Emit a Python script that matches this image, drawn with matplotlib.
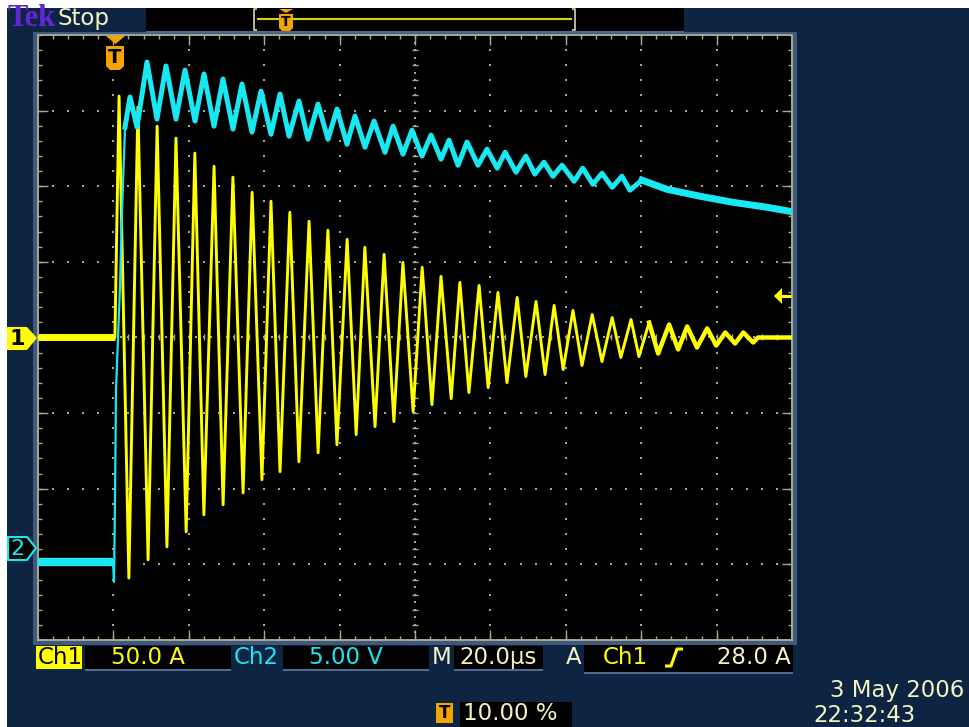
import numpy as np
import matplotlib.pyplot as plt
from matplotlib.patches import Rectangle, Polygon
from matplotlib.lines import Line2D
from matplotlib.transforms import Affine2D

# Ch1 讀值：波峰、波谷 (時間 us, 電流 A)
ch1_peak_t = [1.5, 6.5, 11.6, 16.6, 21.6, 26.7, 31.7, 36.8, 41.8, 46.8, 51.9, 56.9,
              62.0, 66.7, 71.8, 76.8, 81.9, 86.9, 91.9, 97.0, 102.0, 107.1, 112.1,
              116.9, 121.9, 127.0, 132.3, 137.3, 142.1, 147.4, 152.2, 157.5, 162.3, 167.1]
ch1_peak_a = [159.6, 152.3, 139.7, 131.8, 121.9, 113.2, 106.0, 96.0, 90.1, 82.8, 76.8,
              70.9, 64.9, 59.6, 55.0, 49.7, 46.4, 40.4, 36.4, 34.4, 29.8, 26.5, 23.8,
              21.2, 17.9, 15.2, 13.2, 11.9, 9.9, 8.6, 7.3, 6.0, 3.3, 3.3]
ch1_trough_t = [4.1, 9.2, 14.2, 19.3, 24.0, 29.1, 34.4, 39.4, 44.2, 49.2, 54.3, 59.3,
                64.4, 69.4, 74.4, 79.5, 84.5, 89.6, 94.3, 99.4, 104.4, 109.4, 114.5,
                119.3, 124.3, 129.6, 134.6, 139.4, 144.5, 149.8, 154.8, 159.9, 164.9, 169.7]
ch1_trough_a = [-159.0, -147.0, -138.4, -128.5, -117.2, -110.6, -102.7, -94.0, -88.7,
                -82.1, -76.2, -70.9, -64.2, -58.9, -55.6, -49.0, -44.4, -40.4, -36.4,
                -33.1, -29.8, -25.8, -24.5, -21.2, -18.5, -15.9, -13.2, -12.6, -10.6,
                -7.9, -6.6, -5.3, -4.0, -3.3]

# Ch2 讀值 (時間 us, 電壓 V)
ch2_t = [-20.0, -0.1, 0.16, 0.42, 0.69, 1.75, 2.28, 3.08, 4.40, 6.26,
         8.91, 11.56, 13.95, 16.6, 18.99, 21.64, 24.03, 26.68, 29.07, 31.72,
         34.11, 36.76, 39.15, 41.8, 44.19, 46.58, 49.23, 51.62, 54.27, 56.92,
         59.31, 61.96, 64.08, 66.74, 69.13, 72.04, 74.17, 76.82, 79.21, 81.86,
         84.25, 86.9, 89.02, 91.41, 93.8, 96.72, 99.11, 101.8, 103.9, 106.8,
         109.4, 111.8, 114.2, 116.6, 119.0, 122.2, 124.5, 127.2, 129.6, 132.3,
         134.9, 137.0, 140.2, 146.8, 155.6, 164.3, 173.4, 179.5]
ch2_v = [-0.84, -0.84, -2.16, 3.14, 10.56, 17.38, 22.28, 27.91, 29.90, 27.91,
         32.21, 28.44, 31.95, 28.44, 31.68, 28.31, 31.42, 27.97, 31.09, 27.78,
         30.76, 27.58, 30.29, 27.44, 30.09, 27.31, 29.63, 27.11, 29.43, 27.11,
         29.10, 26.78, 28.64, 26.58, 28.31, 26.25, 27.97, 26.12, 27.71, 25.99,
         27.38, 25.79, 27.05, 25.39, 26.92, 25.39, 26.45, 25.2, 26.25, 24.93,
         25.99, 24.80, 25.59, 24.66, 25.39, 24.33, 25.19, 24.13, 24.86, 23.93,
         24.66, 23.74, 24.40, 23.80, 23.34, 22.94, 22.61, 22.34]

W, H = 969, 727
NAVY = '#0d2442'
YEL = '#ffff00'
CYAN = '#18e8f2'
PALE = '#f3f3c4'
ORANGE = '#f5a300'
GC = '#a9a98f'

fig = plt.figure(figsize=(W / 100, H / 100), dpi=100, facecolor='white')
px = Affine2D().scale(1 / W, -1 / H).translate(0, 1) + fig.transFigure


def box(x0, y0, x1, y1, fc, ec='none', lw=0, z=1):
    fig.add_artist(Rectangle((x0, y0), x1 - x0, y1 - y0, transform=px,
                             fc=fc, ec=ec, lw=lw, zorder=z))


def poly(pts, fc, ec='none', lw=0, z=5):
    fig.add_artist(Polygon(pts, closed=True, transform=px, fc=fc, ec=ec, lw=lw, zorder=z))


def label(x, y, s, color, size=16.5, ha='left', **kw):
    fig.text(x, y, s, transform=px, color=color, fontsize=size, ha=ha, va='center',
             family='DejaVu Sans', zorder=6, **kw)


def seg(xs, ys, color, lw, z=5):
    fig.add_artist(Line2D(xs, ys, transform=px, color=color, lw=lw, zorder=z,
                          solid_capstyle='butt'))


# 背景
box(7, 8, W, H, NAVY, z=-10)
box(33, 32, 797, 645, '#3f587c', z=-9)

# 上方狀態列
label(8, 19, 'Tek', '#6424d8', size=22, weight='bold')
fig.texts[-1].set_family('Liberation Serif')
label(58, 19, 'Stop', PALE, size=16.5)
box(146, 8, 684, 31, 'black', z=1)
seg([146, 684], [32, 32], '#4f6a8e', 1.5)
seg([257, 572], [19, 19], '#d8d800', 1.5)
seg([257, 254, 254, 257], [9, 9, 30, 30], '#d8d8b0', 1.2)
seg([572, 575, 575, 572], [9, 9, 30, 30], '#d8d8b0', 1.2)
poly([(279, 9), (293, 9), (286, 13)], ORANGE)
poly([(279, 14), (293, 14), (293, 28), (290, 31), (282, 31), (279, 28)], ORANGE)
label(286, 22.5, 'T', 'black', size=10, ha='center', weight='bold')

# 示波器格線區
ax = fig.add_axes([38 / W, 1 - 640 / H, 754 / W, 605 / H], facecolor='black')
ax.set_xlim(-20, 180)
ax.set_ylim(-200, 200)
ax.set_xticks([])
ax.set_yticks([])
for s in ax.spines.values():
    s.set_color(GC)
    s.set_linestyle((0, (1, 1)))
    s.set_linewidth(1.4)

dot = dict(ls='none', marker='s', ms=1.5, mew=0, color=GC, zorder=1)
for t in np.arange(0, 161, 20):
    if t != 80:
        ax.plot(np.full(41, t), np.arange(-200, 201, 10), **dot)
for a in np.arange(-150, 151, 50):
    if a != 0:
        ax.plot(np.arange(-20, 181, 4), np.full(51, a), **dot)
ax.plot(np.full(81, 80), np.arange(-200, 201, 5), **dot)
ax.plot(np.arange(-20, 181, 2), np.zeros(101), **dot)
tick = dict(ls='none', mew=1, color=GC, zorder=1)
ax.plot(np.full(41, 80), np.arange(-200, 201, 10), marker='_', ms=5, **tick)
ax.plot(np.arange(-20, 181, 4), np.zeros(51), marker='|', ms=5, **tick)
for yb in (-200, 200):
    ax.plot(np.arange(-20, 181, 4), np.full(51, yb), marker='|', ms=6, **tick)
    ax.plot(np.arange(0, 161, 20), np.full(9, yb), marker='|', ms=14, **tick)
for xb in (-20, 180):
    ax.plot(np.full(41, xb), np.arange(-200, 201, 10), marker='_', ms=6, **tick)
    ax.plot(np.full(7, xb), np.arange(-150, 151, 50), marker='_', ms=14, **tick)

# Ch1 波形
t1 = [-20.0, 0.4]
a1 = [0.0, 0.0]
for tp, ap, tt, at in zip(ch1_peak_t, ch1_peak_a, ch1_trough_t, ch1_trough_a):
    t1 += [tp, tt]
    a1 += [ap, at]
t1 += [171.0, 180.0]
a1 += [0.0, 0.0]
t1 = np.array(t1)
a1 = np.array(a1)
ax.plot(t1, a1, color=YEL, lw=2.1, zorder=3)
ax.plot(t1[:2], a1[:2], color=YEL, lw=5, zorder=3, solid_capstyle='butt')
late = t1 >= 140
ax.plot(t1[late], a1[late], color=YEL, lw=3.2, zorder=3)

# Ch2 波形 (右軸：5 V/div，零點在 -2.8 div)
ax2 = ax.twinx()
ax2.set_ylim(-6, 34)
ax2.set_yticks([])
for s in ax2.spines.values():
    s.set_visible(False)
t2 = np.array(ch2_t)
v2 = np.array(ch2_v)
ax2.plot(t2[:2], v2[:2], color=CYAN, lw=6, solid_capstyle='butt')
ax2.plot(t2[1:8], v2[1:8], color=CYAN, lw=1.6)
ax2.plot(t2[7:], v2[7:], color=CYAN, lw=3.6)
ax2.plot(t2[62:], v2[62:], color=CYAN, lw=5)

# 觸發標記
poly([(106, 36), (125, 36), (115.5, 44)], ORANGE, z=8)
poly([(106, 46), (124, 46), (124, 66), (120, 70), (110, 70), (106, 66)], ORANGE, z=8)
label(115, 57.5, 'T', 'black', size=14, ha='center', weight='bold')
fig.texts[-1].set_zorder(9)

# 通道標記
poly([(7, 327), (27, 327), (37, 338), (27, 350), (7, 350)], YEL, z=8)
label(17, 339, '1', 'black', size=16, ha='center', weight='bold')
fig.texts[-1].set_zorder(9)
poly([(8, 537), (27, 537), (36, 548), (27, 560), (8, 560)], 'black', ec=CYAN, lw=1.5, z=8)
label(17, 549, '2', CYAN, size=16, ha='center')
fig.texts[-1].set_zorder(9)
poly([(774, 296), (782, 288), (782, 304)], YEL, z=8)
seg([781, 791], [296, 296], YEL, 2.2, z=8)

# 下方狀態列
box(36, 646, 82, 669, YEL)
label(38, 657.5, 'Ch1', 'black')
box(85, 646, 231, 669, 'black')
seg([85, 231], [670, 670], '#4f6a8e', 1.5)
label(111, 657.5, '50.0 A', YEL)
label(234, 657.5, 'Ch2', CYAN)
box(283, 646, 429, 669, 'black')
seg([283, 429], [670, 670], '#4f6a8e', 1.5)
label(309, 657.5, '5.00 V', CYAN)
label(432, 657.5, 'M', PALE)
box(454, 646, 543, 669, 'black')
seg([454, 543], [670, 670], '#4f6a8e', 1.5)
label(459, 657.5, '20.0\u00b5s', PALE)
label(566, 657.5, 'A', PALE)
box(584, 645, 793, 672, 'black')
seg([584, 793], [673, 673], '#4f6a8e', 1.5)
label(603, 657.5, 'Ch1', YEL)
seg([665, 671, 677, 683], [666, 666, 649, 649], YEL, 2.2, z=7)
label(717, 657.5, '28.0 A', PALE)

box(436, 703, 453, 723, ORANGE)
label(444.5, 713.5, 'T', 'black', size=12, ha='center', weight='bold')
box(460, 702, 572, 727, 'black')
label(463, 714, '10.00 %', PALE)
label(964, 691, '3 May 2006', PALE, ha='right')
label(813, 715, '22:32:43', PALE)

fig.savefig('out.png', dpi=100, facecolor=fig.get_facecolor())
